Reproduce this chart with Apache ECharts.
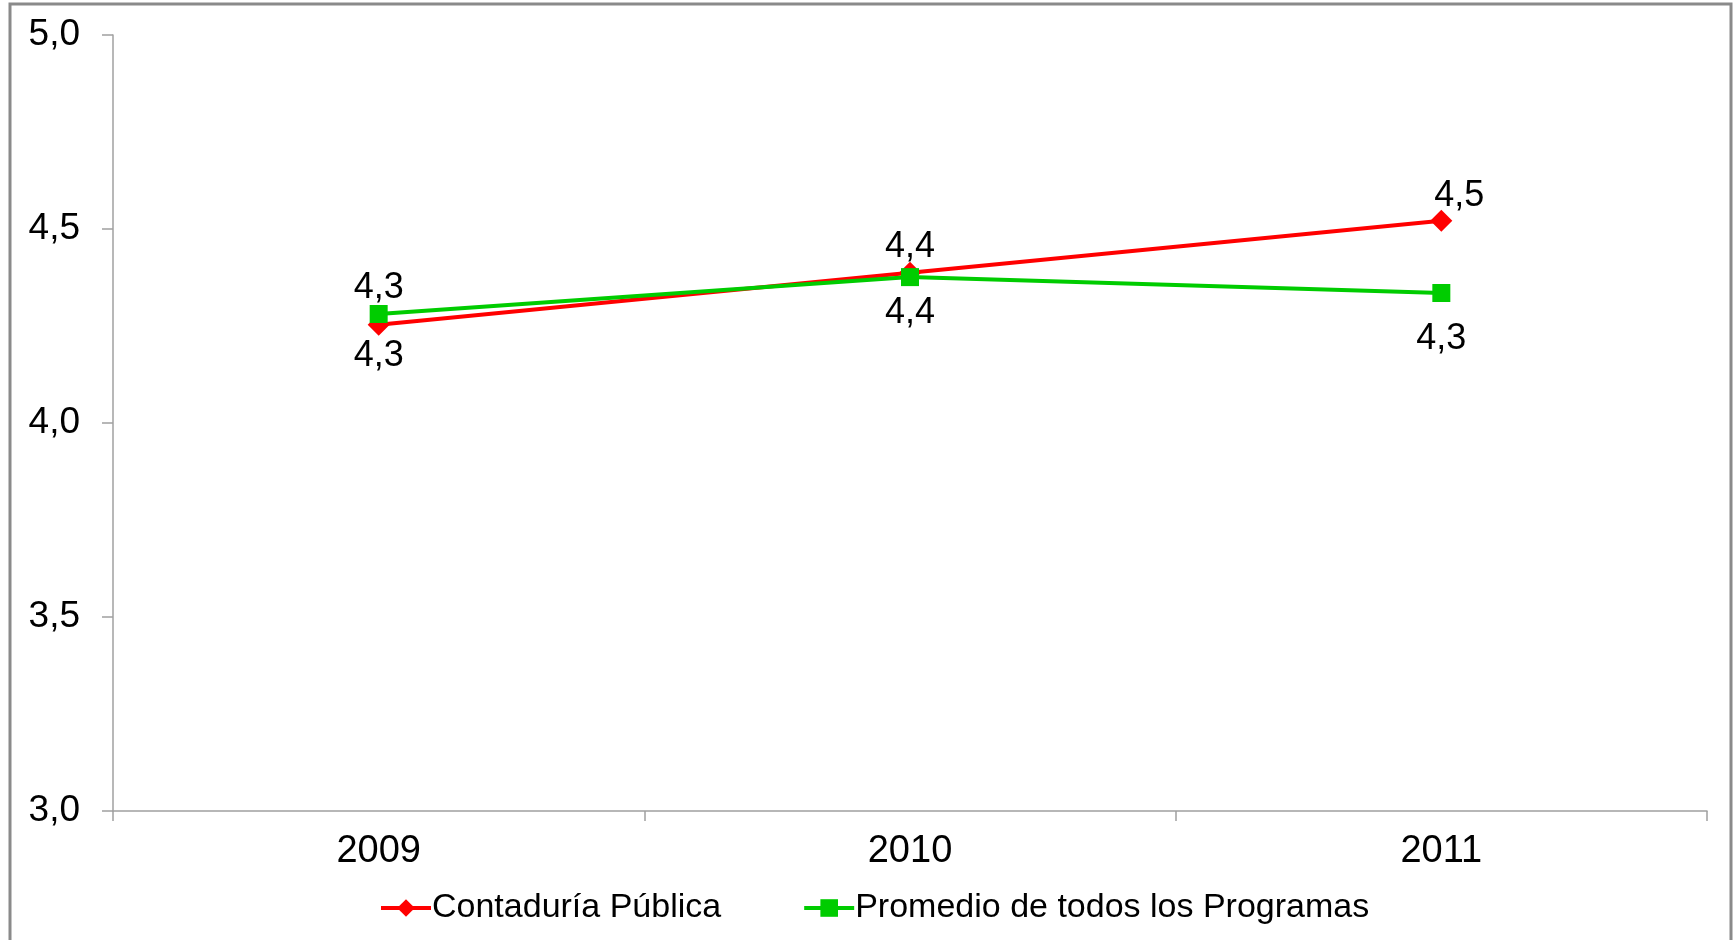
<!DOCTYPE html>
<html>
<head>
<meta charset="utf-8">
<script src="https://cdn.jsdelivr.net/npm/echarts@6/dist/echarts.min.js"></script>
<style>
html,body{margin:0;padding:0;background:#fff;}
#chart{width:1735px;height:940px;}
</style>
</head>
<body>
<div id="chart"></div>
<script>
const years = ['2009', '2010', '2011'];
const contaduria = [4.253, 4.387, 4.521];
const promedio = [4.281, 4.376, 4.335];
const seriesNames = ['Contaduría Pública', 'Promedio de todos los Programas'];

const FONT = 'Liberation Sans, Arial, sans-serif';
const fmt = v => v.toFixed(1).replace('.', ',');

const chart = echarts.init(document.getElementById('chart'));
const redPos = [
  {position: 'bottom', distance: 2},
  {position: 'top', distance: -3},
  {position: 'top', distance: -2, offset: [18, 2]}
];
const greenPos = [
  {position: 'top', distance: -1},
  {position: 'bottom', distance: 9},
  {position: 'bottom', distance: 19}
];
const labelBase = {
  show: true, color: '#000', fontFamily: FONT, fontSize: 36,
  formatter: p => fmt(p.value)
};
chart.setOption({
  animation: false,
  backgroundColor: '#fff',
  graphic: [{
    type: 'rect', shape: {x: 10, y: 4, width: 1721, height: 960},
    style: {fill: 'none', stroke: '#8a8a8a', lineWidth: 3}, silent: true, z: -1
  }],
  grid: {left: 113, right: 28, top: 35, bottom: 129, containLabel: false},
  legend: {
    bottom: 10, left: 374,
    itemWidth: 50, itemHeight: 22, itemGap: 81,
    lineStyle: {width: 4},
    textStyle: {fontFamily: FONT, fontSize: 34, color: '#000', padding: [0, 0, 0, -4]},
    data: seriesNames
  },
  xAxis: {
    type: 'category', data: years, boundaryGap: true,
    axisLine: {lineStyle: {color: '#a0a0a0', width: 1.5}},
    axisTick: {show: true, length: 10, lineStyle: {color: '#a0a0a0', width: 1.5}},
    axisLabel: {fontFamily: FONT, fontSize: 38, color: '#000', margin: 22}
  },
  yAxis: {
    type: 'value', min: 3, max: 5, interval: 0.5,
    axisLine: {show: true, lineStyle: {color: '#a0a0a0', width: 1.5}},
    axisTick: {show: true, length: 11, lineStyle: {color: '#a0a0a0', width: 1.5}},
    splitLine: {show: false},
    axisLabel: {fontFamily: FONT, fontSize: 37, color: '#000', margin: 33, formatter: v => fmt(v)}
  },
  series: [
    {
      name: seriesNames[0], type: 'line',
      data: contaduria.map((v, i) => ({value: v, label: Object.assign({}, labelBase, redPos[i])})),
      symbol: 'diamond', symbolSize: 22,
      lineStyle: {color: '#ff0000', width: 4},
      itemStyle: {color: '#ff0000'},
      z: 2
    },
    {
      name: seriesNames[1], type: 'line',
      data: promedio.map((v, i) => ({value: v, label: Object.assign({}, labelBase, greenPos[i])})),
      symbol: 'rect', symbolSize: 18,
      lineStyle: {color: '#00cc00', width: 4},
      itemStyle: {color: '#00cc00'},
      z: 3
    }
  ]
});
</script>
</body>
</html>
